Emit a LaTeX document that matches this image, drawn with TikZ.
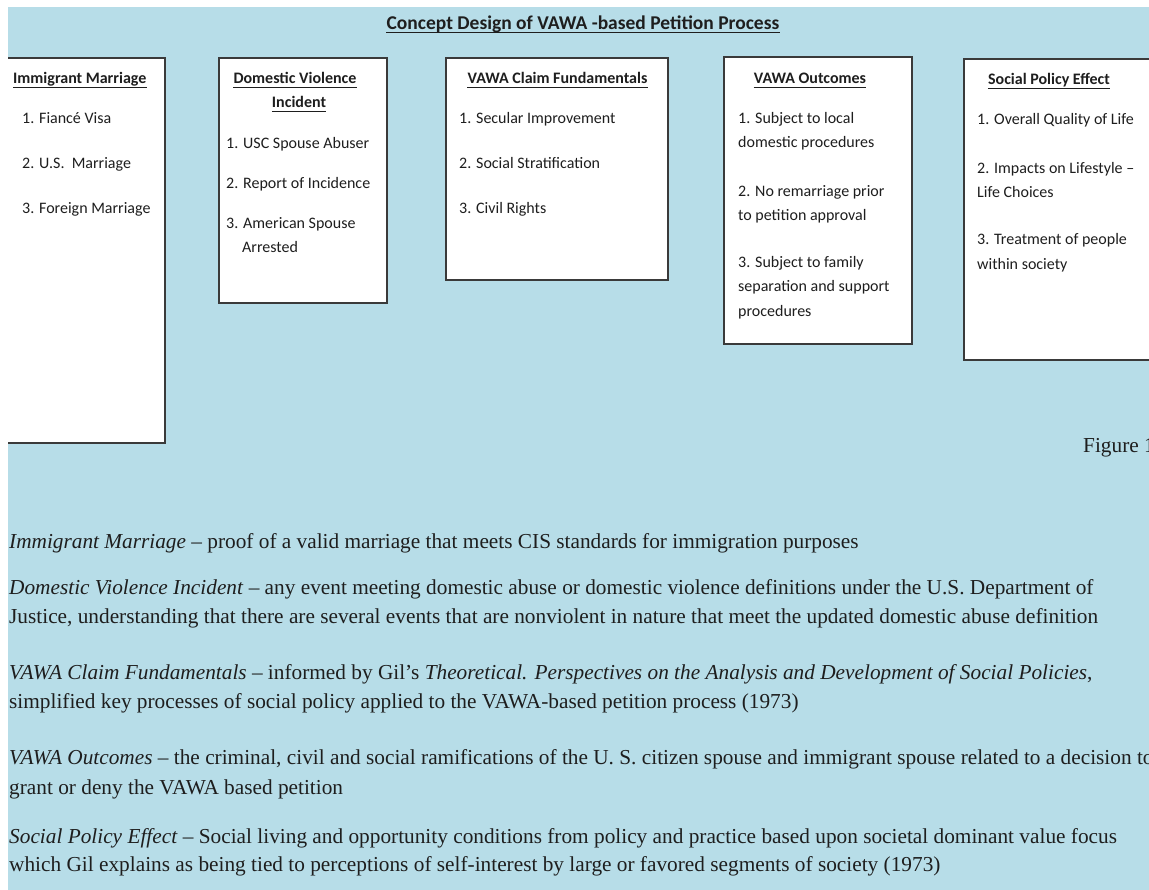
\documentclass[tikz,border=0pt]{standalone}
\usepackage{fontspec}
\setmainfont{Liberation Serif}
\newfontfamily\boxfont{Carlito}
\definecolor{bgblue}{HTML}{B7DDE8}
\definecolor{framegray}{HTML}{3A3A3A}
\definecolor{inkgray}{HTML}{1E1E1E}
\tikzset{
  panel/.style={draw=framegray, fill=white, line width=1.5pt},
  item/.style={anchor=base west, inner sep=0pt, text=inkgray,
    font=\boxfont\fontsize{16}{24}\selectfont},
  head/.style={anchor=base, inner sep=0pt, text=inkgray,
    font=\boxfont\bfseries\fontsize{16}{24}\selectfont},
  note/.style={anchor=base west, inner sep=0pt, text=inkgray,
    font=\fontsize{21.3}{28}\selectfont},
  uline/.style={draw=inkgray, line width=1pt},
}
% underline a heading node at a fixed distance below its baseline
\newcommand{\ulnode}[2][3.3pt]{%
  \draw[uline] ([yshift=-#1]#2.base west) -- ([yshift=-#1]#2.base east);}
\begin{document}
\begin{tikzpicture}[x=1pt, y=-1pt]
  \useasboundingbox (0,0) rectangle (1149,890);
  \clip (0,0) rectangle (1149,890);
  \fill[white] (0,0) rectangle (1149,890);
  \fill[bgblue] (8,7) rectangle (1149,890);

  % title
  \node[anchor=base, inner sep=0pt, text=inkgray,
        font=\boxfont\bfseries\fontsize{19.5}{24}\selectfont]
        (title) at (583,29.3) {Concept Design of VAWA -based Petition Process};
  \draw[uline, line width=1.3pt] ([yshift=-3pt]title.base west) -- ([yshift=-3pt]title.base east);

  % panels, trimmed to the coloured area
  \begin{scope}
    \clip (8,7) rectangle (1149,890);
    \draw[panel] (2,58) rectangle (165,443);
    \draw[panel] (219,58) rectangle (387,303);
    \draw[panel] (446,58) rectangle (668,280);
    \draw[panel] (724,57) rectangle (912,344);
    \draw[panel] (964,59) rectangle (1160,360);
  \end{scope}

  % Immigrant Marriage
  \node[head, anchor=base west] (h1) at (13,84) {Immigrant Marriage};
  \ulnode{h1}
  \node[item] (a1) at (22,124) {1. Fiancé Visa};
  \node[item] (a2) at (22,169) {2. U.S.\ \ Marriage};
  \node[item] (a3) at (22,214) {3. Foreign Marriage};

  % Domestic Violence Incident
  \node[head] (h2a) at (295,84) {Domestic Violence};
  \ulnode{h2a}
  \node[head] (h2b) at (299,108) {Incident};
  \ulnode{h2b}
  \node[item] (b1) at (226,149) {1. USC Spouse Abuser};
  \node[item] (b2) at (226,189) {2. Report of Incidence};
  \node[item] (b3) at (226,229) {3. American Spouse};
  \node[item] (b3b) at (242,253) {Arrested};

  % VAWA Claim Fundamentals
  \node[head] (h3) at (557.5,84) {VAWA Claim Fundamentals};
  \ulnode{h3}
  \node[item] (c1) at (459,124) {1. Secular Improvement};
  \node[item] (c2) at (459,169) {2. Social Stratification};
  \node[item] (c3) at (459,214) {3. Civil Rights};

  % VAWA Outcomes
  \node[head] (h4) at (810,84) {VAWA Outcomes};
  \ulnode{h4}
  \node[item] (d1) at (738,124) {1. Subject to local};
  \node[item] (d1b) at (738,148) {domestic procedures};
  \node[item] (d2) at (738,197) {2. No remarriage prior};
  \node[item] (d2b) at (738,221) {to petition approval};
  \node[item] (d3) at (738,268) {3. Subject to family};
  \node[item] (d3b) at (738,292) {separation and support};
  \node[item] (d3c) at (738,317) {procedures};

  % Social Policy Effect
  \node[head] (h5) at (1049,85) {Social Policy Effect};
  \ulnode{h5}
  \node[item] (e1) at (977,125) {1. Overall Quality of Life};
  \node[item] (e2) at (977,174) {2. Impacts on Lifestyle –};
  \node[item] (e2b) at (977,198) {Life Choices};
  \node[item] (e3) at (977,245) {3. Treatment of people};
  \node[item] (e3b) at (977,270) {within society};

  % caption
  \node[note] (fig) at (1083,453) {Figure 1};

  % definitions
  \node[note] (n1) at (9,548) {\textit{Immigrant Marriage} -- proof of a valid marriage that meets CIS standards for immigration purposes};
  \node[note] (n2) at (9,594) {\textit{Domestic Violence Incident} -- any event meeting domestic abuse or domestic violence definitions under the U.S. Department of};
  \node[note] (n2b) at (9,623) {Justice, understanding that there are several events that are nonviolent in nature that meet the updated domestic abuse definition};
  \node[note] (n3) at (9,679) {\textit{VAWA Claim Fundamentals} -- informed by Gil’s \textit{Theoretical. Perspectives on the Analysis and Development of Social Policies},};
  \node[note] (n3b) at (9,708) {simplified key processes of social policy applied to the VAWA-based petition process (1973)};
  \node[note] (n4) at (9,764) {\textit{VAWA Outcomes} -- the criminal, civil and social ramifications of the U. S. citizen spouse and immigrant spouse related to a decision to};
  \node[note] (n4b) at (9,794) {grant or deny the VAWA based petition};
  \node[note] (n5) at (9,843) {\textit{Social Policy Effect} -- Social living and opportunity conditions from policy and practice based upon societal dominant value focus};
  \node[note] (n5b) at (9,871) {which Gil explains as being tied to perceptions of self-interest by large or favored segments of society (1973)};
\end{tikzpicture}
\end{document}
